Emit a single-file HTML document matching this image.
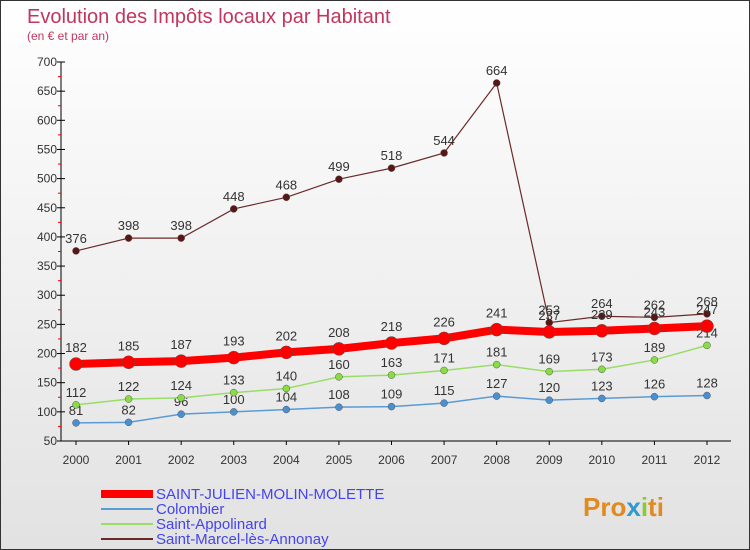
<!DOCTYPE html>
<html><head><meta charset="utf-8"><style>
body{margin:0;}
#c{width:748px;height:548px;border:1px solid #333;background:linear-gradient(#fff,#e2e2e2);position:relative;overflow:hidden;font-family:"Liberation Sans",sans-serif;}
</style></head><body>
<div id="c">
<svg id="s" width="748" height="548">
<text x="26" y="22" font-size="20" fill="#c0365f">Evolution des Impôts locaux par Habitant</text>
<text x="26" y="39" font-size="12" fill="#c0365f">(en € et par an)</text>
<g id="g"></g>
</svg>
</div>
<script>
const years=[2000,2001,2002,2003,2004,2005,2006,2007,2008,2009,2010,2011,2012];
const yTicks=[50,100,150,200,250,300,350,400,450,500,550,600,650,700];
const mainVals=[182,185,187,193,202,208,218,226,241,237,239,243,247];
const colVals=[81,82,96,100,104,108,109,115,127,120,123,126,128];
const appVals=[112,122,124,133,140,160,163,171,181,169,173,189,214];
const marVals=[376,398,398,448,468,499,518,544,664,253,264,262,268];
const names=["SAINT-JULIEN-MOLIN-MOLETTE","Colombier","Saint-Appolinard","Saint-Marcel-lès-Annonay"];
const NS="http://www.w3.org/2000/svg";
const g=document.getElementById('g');
const X=i=>75+i*(631/12);
const Y=v=>440-(v-50)*(379/650);
function el(t,a,p){const e=document.createElementNS(NS,t);for(const k in a)e.setAttribute(k,a[k]);(p||g).appendChild(e);return e;}
let ax=el('line',{x1:60,y1:61,x2:60,y2:440,stroke:'#000'});

let bx=el('line',{x1:60,y1:440,x2:730,y2:440,stroke:'#000'});

yTicks.forEach(v=>{
 let t=el('text',{x:56,y:Y(v)+4,'font-size':12,fill:'#333','text-anchor':'end'});t.textContent=v;
 
 el('line',{x1:56,y1:Y(v),x2:64,y2:Y(v),stroke:'#000'});
 if(v<700) el('line',{x1:57,y1:Y(v+25),x2:60,y2:Y(v+25),stroke:'#e00'});
});
years.forEach((y,i)=>{
 let t=el('text',{x:X(i),y:463,'font-size':12,fill:'#333','text-anchor':'middle'});t.textContent=y;
 
 el('line',{x1:X(i),y1:440,x2:X(i),y2:444,stroke:'#000'});
});
function series(vals,color,w,r,fill,name,off){
 let p=el('polyline',{points:vals.map((v,i)=>X(i)+','+Y(v)).join(' '),fill:'none',stroke:color,'stroke-width':w});
 
 vals.forEach((v,i)=>{
  let c=el('circle',{cx:X(i),cy:Y(v),r:r,fill:fill,stroke:'#555','stroke-width':0.5});
  
  let t=el('text',{x:X(i),y:Y(v)-off,'font-size':13,fill:'#333','text-anchor':'middle'});t.textContent=v;
  
 });
}
series(colVals,'#5b9bd5',1.5,3.5,'#4a90d0','colombier',8);
series(appVals,'#99dd66',1.5,3.5,'#88dd44','saint-appolinard',8);
series(marVals,'#6b2a2a',1.2,3.5,'#5a1515','saint-marcel',8);
series(mainVals,'#f00',8,6.5,'#f00','saint-julien',12);
const lc=['#f00','#5b9bd5','#99dd66','#6b2a2a'],lw=[8,2,2,2];
names.forEach((n,i)=>{
 let y=493+i*15;
 let l=el('line',{x1:100,y1:y,x2:152,y2:y,stroke:lc[i],'stroke-width':lw[i]});
 
 let t=el('text',{x:155,y:y+5,'font-size':15,fill:'#4444ee'});t.textContent=n;
 
});
let lg=el('text',{x:582,y:515,'font-size':26,'font-weight':'bold',fill:'#3399cc'});

[['Pro','#e08a20'],['x','#3399cc'],['i','#88cc33'],['ti','#e08a20']].forEach(([s,c])=>{let ts=el('tspan',{fill:c},lg);ts.textContent=s;});
</script>
</body></html>
